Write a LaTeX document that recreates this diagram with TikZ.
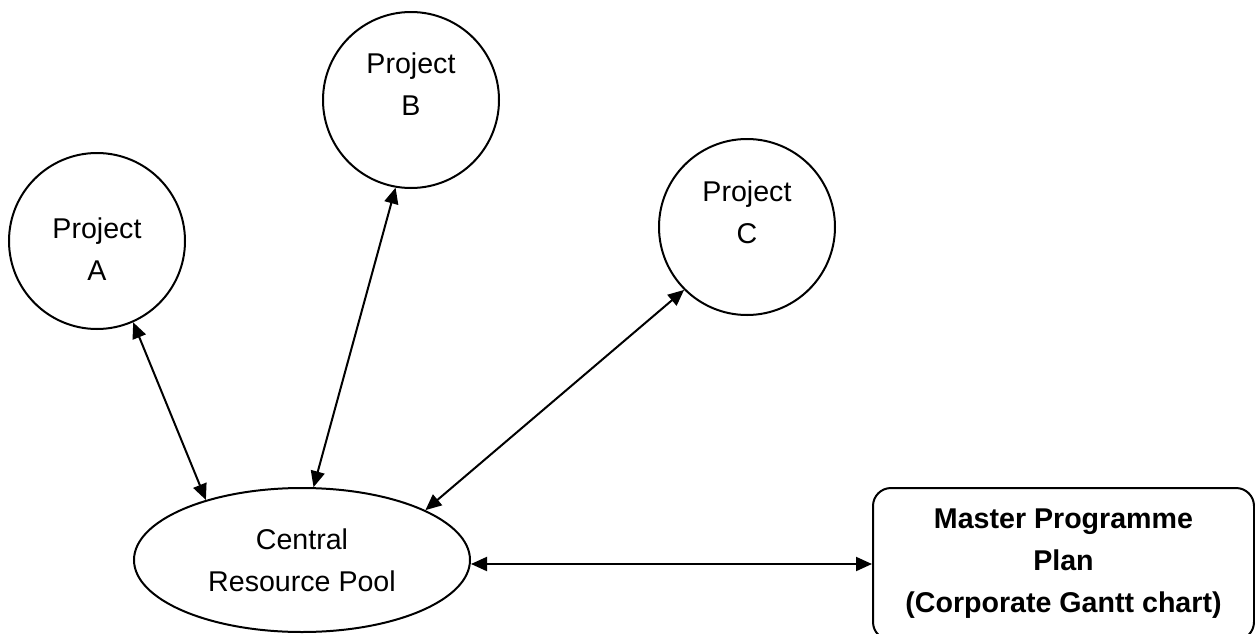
\documentclass[tikz,border=0pt]{standalone}
\usepackage{fontspec}
\setmainfont{Liberation Sans}
\usetikzlibrary{arrows.meta,shapes.geometric}

\begin{document}
\begin{tikzpicture}[x=0.5pt,y=-0.5pt,
    every node/.style={font=\fontsize{14.3}{21}\selectfont, align=center},
    project/.style={circle, draw, line width=1pt, minimum size=88pt, inner sep=0pt},
    link/.style={{Triangle[length=8pt,width=7pt]}-{Triangle[length=8pt,width=7pt]}, line width=1pt}]
  \useasboundingbox (0,0) rectangle (1255,633);
    %the projects, text set a little off the circle centres
  \node[project] (pa) at (97,241) {};
  \node (pa text) at (97,249) {Project\\A};
  \node[project] (pb) at (411,100) {};
  \node (pb text) at (411,84) {Project\\B};
  \node[project] (pc) at (747,227) {};
  \node (pc text) at (747,212) {Project\\C};
    %resource pool and the master plan
  \node[ellipse, draw, line width=1pt, minimum width=168pt, minimum height=72pt, inner sep=0pt] (pool) at (302,560) {Central\\Resource Pool};
  \node[draw, rounded corners=9pt, line width=1pt, minimum width=190.5pt, minimum height=76pt, font=\bfseries\fontsize{14.3}{21}\selectfont] (plan) at (1063.5,564) {Master Programme\\Plan\\(Corporate Gantt chart)};
    %two-way links
  \draw[link] (pa.-66) -- (pool.148);
  \draw[link] (pb.-100) -- (pool.81);
  \draw[link] (pc.-135) -- (pool.22);
  \draw[link] (pool.east |- plan.west) -- (plan.west);
\end{tikzpicture}
\end{document}
